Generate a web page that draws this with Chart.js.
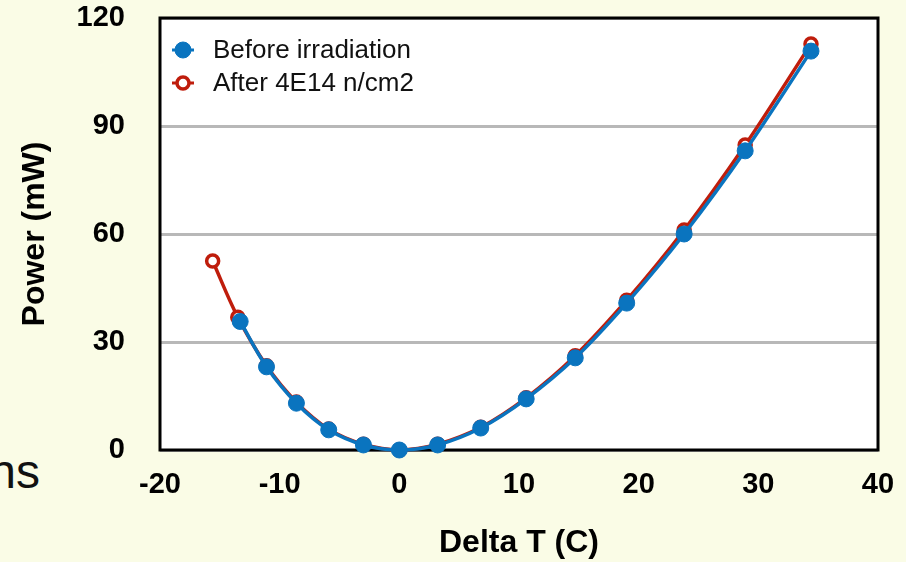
<!DOCTYPE html>
<html>
<head>
<meta charset="utf-8">
<script src="https://cdn.jsdelivr.net/npm/chart.js@4.4.1/dist/chart.umd.min.js"></script>
<style>
  html, body { margin: 0; padding: 0; background: #fafce6; }
  #wrap { position: relative; width: 906px; height: 562px; overflow: hidden; }
  #side { position: absolute; right: 866px; top: 444px; font: 48px "Liberation Sans", Arial, sans-serif; color: #111; white-space: nowrap; }
  canvas { position: absolute; left: 0; top: 0; }
</style>
</head>
<body>
<div id="wrap">
  <div id="side">ns</div>
  <canvas id="c" width="906" height="562"></canvas>
</div>
<script>
// Temperature difference (C) and dissipated power (mW)
const beforeT = [-13.3, -11.1, -8.6, -5.9, -3.0, 0, 3.2, 6.8, 10.6, 14.7, 19.0, 23.8, 28.9, 34.4];
const beforePower = [35.7, 23.1, 13.0, 5.6, 1.4, 0, 1.4, 6.1, 14.2, 25.6, 40.8, 60.0, 83.1, 110.8];
const afterT = [-15.6, -13.5, -11.1, -8.6, -5.9, -3.0, 0, 3.2, 6.8, 10.6, 14.7, 19.0, 23.8, 28.9, 34.4];
const afterPower = [52.5, 36.9, 23.4, 13.3, 5.8, 1.6, 0, 1.6, 6.3, 14.5, 26.2, 41.6, 61.1, 84.7, 112.8];
const seriesNames = ['Before irradiation', 'After 4E14 n/cm2'];
const xTicks = [-20, -10, 0, 10, 20, 30, 40];
const yTicks = [0, 30, 60, 90, 120];

const BLUE = '#0a74bf';
const RED = '#bf1d0c';
const FONT = '"Liberation Sans", Arial, Helvetica, sans-serif';

const toXY = (xs, ys) => xs.map((x, i) => ({ x, y: ys[i] }));

function noScalePadding(scale) {
  scale.paddingTop = 0;
  scale.paddingBottom = 0;
  scale.paddingLeft = 0;
  scale.paddingRight = 0;
}

// White plot area with a black frame, drawn under the curves
const framePlugin = {
  id: 'frame',
  beforeDraw(chart) {
    const { ctx, chartArea: a } = chart;
    ctx.save();
    ctx.fillStyle = '#ffffff';
    ctx.fillRect(a.left, a.top, a.right - a.left, a.bottom - a.top);
    ctx.restore();
  },
  beforeDatasetsDraw(chart) {
    const { ctx, chartArea: a } = chart;
    ctx.save();
    ctx.strokeStyle = '#000000';
    ctx.lineWidth = 3;
    ctx.strokeRect(a.left, a.top, a.right - a.left, a.bottom - a.top);
    ctx.restore();
  }
};

// Legend inside the upper-left corner of the plot
const insideLegend = {
  id: 'insideLegend',
  afterDatasetsDraw(chart) {
    const { ctx, chartArea: a } = chart;
    ctx.save();
    ctx.font = '26px ' + FONT;
    ctx.textBaseline = 'middle';
    chart.data.datasets.forEach((ds, i) => {
      const cx = a.left + 23;
      const cy = a.top + 32 + i * 33;
      ctx.strokeStyle = ds.borderColor;
      ctx.lineWidth = 3;
      ctx.beginPath();
      ctx.moveTo(cx - 11, cy);
      ctx.lineTo(cx + 11, cy);
      ctx.stroke();
      ctx.beginPath();
      ctx.arc(cx, cy, ds.pointRadius, 0, Math.PI * 2);
      ctx.fillStyle = ds.pointBackgroundColor;
      ctx.fill();
      ctx.lineWidth = ds.pointBorderWidth;
      ctx.strokeStyle = ds.pointBorderColor;
      ctx.stroke();
      ctx.fillStyle = '#111111';
      ctx.fillText(ds.label, a.left + 53, cy + 1);
    });
    ctx.restore();
  }
};

new Chart(document.getElementById('c'), {
  type: 'line',
  data: {
    datasets: [
      {
        label: seriesNames[0],
        data: toXY(beforeT, beforePower),
        borderColor: BLUE,
        borderWidth: 3.5,
        pointRadius: 8,
        pointBackgroundColor: BLUE,
        pointBorderColor: BLUE,
        pointBorderWidth: 1,
        tension: 0.35,
        clip: false
      },
      {
        label: seriesNames[1],
        data: toXY(afterT, afterPower),
        borderColor: RED,
        borderWidth: 3.5,
        pointRadius: 6,
        pointBackgroundColor: '#ffffff',
        pointBorderColor: RED,
        pointBorderWidth: 3.5,
        tension: 0.35,
        clip: false
      }
    ]
  },
  options: {
    responsive: false,
    devicePixelRatio: 1,
    animation: false,
    events: [],
    layout: { padding: { left: 0, top: 18, right: 28, bottom: 0 } },
    plugins: { legend: { display: false }, tooltip: { enabled: false } },
    scales: {
      x: {
        type: 'linear',
        min: xTicks[0],
        max: xTicks[xTicks.length - 1],
        afterBuildTicks(scale) { scale.ticks = xTicks.map(v => ({ value: v })); },
        afterFit(scale) { scale.height = 112; noScalePadding(scale); },
        grid: { display: false, drawTicks: false },
        border: { display: false },
        ticks: { padding: 18, color: '#000', font: { family: FONT, size: 29, weight: 'bold' }, maxRotation: 0 },
        title: {
          display: true,
          text: 'Delta T (C)',
          color: '#000',
          font: { family: FONT, size: 32, weight: 'bold', lineHeight: 1.2 },
          padding: { top: 0, bottom: 0 }
        }
      },
      y: {
        type: 'linear',
        min: yTicks[0],
        max: yTicks[yTicks.length - 1],
        afterBuildTicks(scale) { scale.ticks = yTicks.map(v => ({ value: v })); },
        afterFit(scale) { scale.width = 160; noScalePadding(scale); },
        grid: { color: '#b8b8b8', lineWidth: 3, drawTicks: false },
        border: { display: false },
        ticks: { padding: 35, color: '#000', font: { family: FONT, size: 29, weight: 'bold' } },
        title: {
          display: true,
          text: 'Power (mW)',
          color: '#000',
          font: { family: FONT, size: 32, weight: 'bold', lineHeight: 1.2 },
          padding: { top: 16, bottom: 0 }
        }
      }
    }
  },
  plugins: [framePlugin, insideLegend]
});
</script>
</body>
</html>
